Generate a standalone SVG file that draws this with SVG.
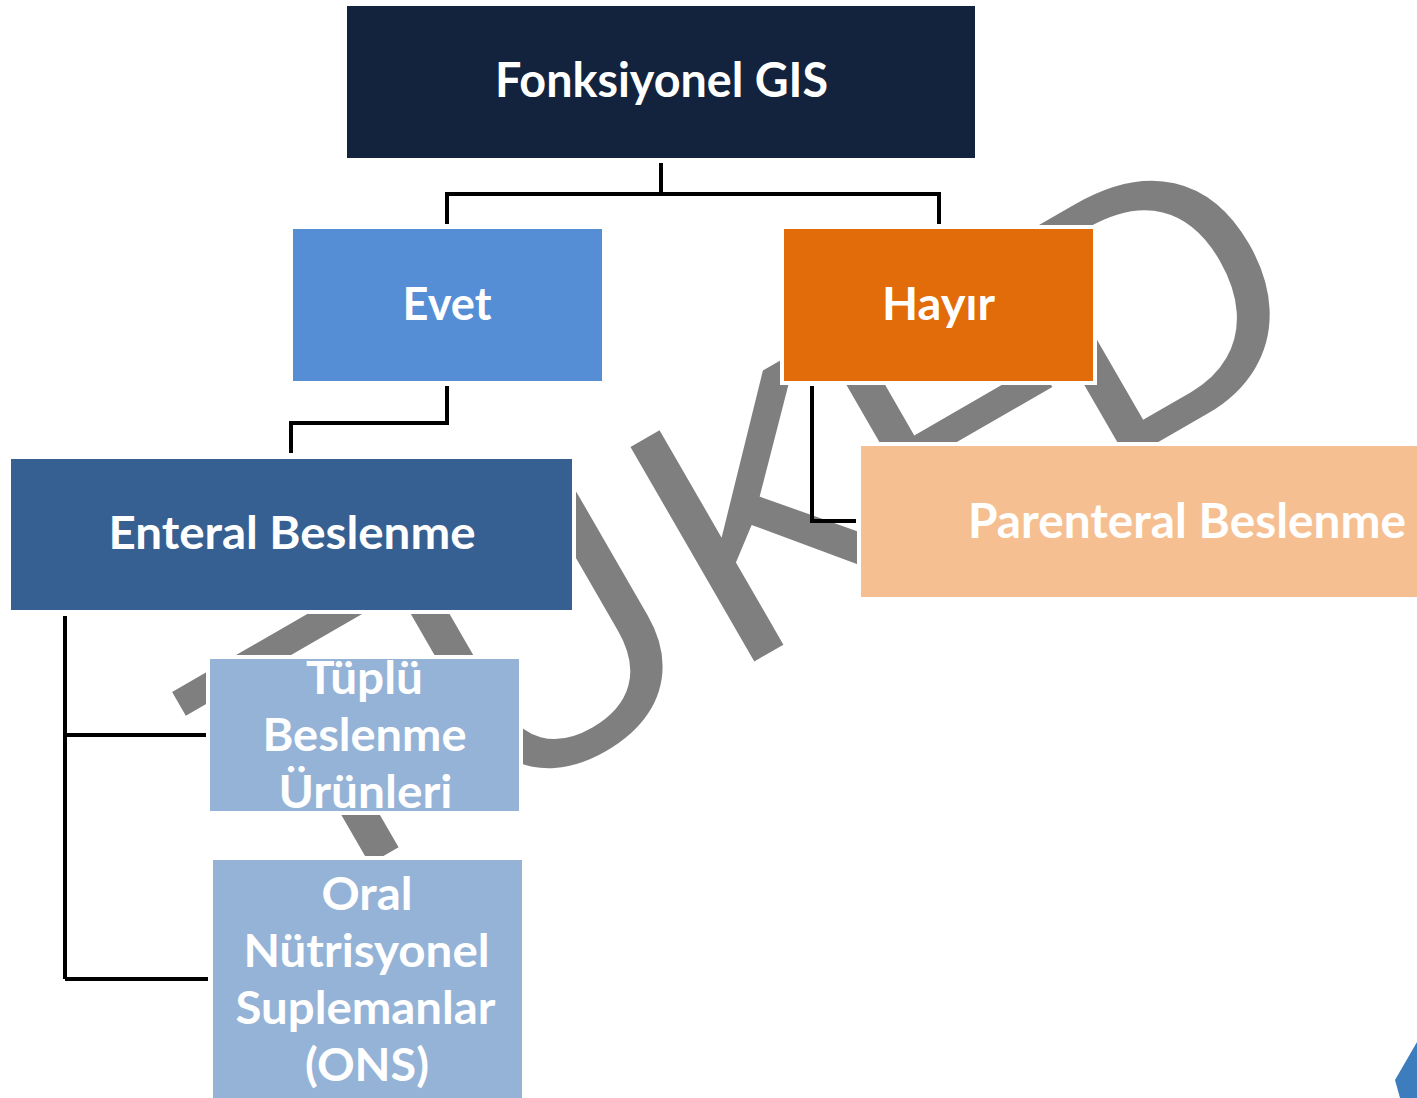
<svg xmlns="http://www.w3.org/2000/svg" width="1417" height="1098" viewBox="0 0 1417 1098">
<style>
.box{stroke:#fff;stroke-width:8;paint-order:stroke}
.lbl{font-family:Lato,"Open Sans","Liberation Sans",sans-serif;font-weight:700;fill:#fff;text-anchor:middle;font-size:46px}
.wire{fill:none;stroke:#000;stroke-width:4;stroke-linejoin:miter;stroke-linecap:butt}
.wm{font-family:"Liberation Sans",Arial,sans-serif;font-size:360px;fill:#7f7f7f}
</style>
<rect width="1417" height="1098" fill="#fff"/>
<g id="watermark" transform="rotate(-30)">
<text class="wm" x="-205 21 293 511 717" y="933 950 950 975 962">TÜKED</text>
</g>
<g id="connectors">
<path class="wire" d="M661,163 V194"/>
<path class="wire" d="M447,224 V194 H939 V224"/>
<path class="wire" d="M447,386 V423 H291 V453"/>
<path class="wire" d="M812,386 V521 H856"/>
<path class="wire" d="M65,616 V979"/>
<path class="wire" d="M65,735 H206"/>
<path class="wire" d="M65,979 H208"/>
</g>
<g id="node-fonksiyonel">
<rect class="box" x="347" y="6" width="628" height="152" fill="#13233D"/>
<text class="lbl" x="661.5" y="97" style="font-size:47px" textLength="333" lengthAdjust="spacingAndGlyphs">Fonksiyonel GIS</text>
</g>
<g id="node-evet">
<rect class="box" x="293" y="229" width="309" height="152" fill="#558ED5"/>
<text class="lbl" x="447" y="320" textLength="89" lengthAdjust="spacingAndGlyphs">Evet</text>
</g>
<g id="node-hayir">
<rect class="box" x="784" y="229" width="309" height="152" fill="#E26B0A"/>
<text class="lbl" x="938.5" y="320" textLength="113" lengthAdjust="spacingAndGlyphs">Hayır</text>
</g>
<g id="node-enteral">
<rect class="box" x="11" y="459" width="561" height="151" fill="#376092"/>
<text class="lbl" x="292" y="549" textLength="367" lengthAdjust="spacingAndGlyphs">Enteral Beslenme</text>
</g>
<g id="node-parenteral">
<rect class="box" x="861" y="446" width="650" height="151" fill="#F6BF91"/>
<text class="lbl" x="1187" y="538" style="font-size:47px" textLength="438" lengthAdjust="spacingAndGlyphs">Parenteral Beslenme</text>
</g>
<g id="node-tuplu">
<rect class="box" x="210" y="659" width="309" height="152" fill="#95B3D7"/>
<text class="lbl" x="364.5" y="694" textLength="117" lengthAdjust="spacingAndGlyphs">Tüplü</text>
<text class="lbl" x="364.5" y="751" textLength="204" lengthAdjust="spacingAndGlyphs">Beslenme</text>
<text class="lbl" x="365.5" y="808" textLength="174" lengthAdjust="spacingAndGlyphs">Ürünleri</text>
</g>
<g id="node-oral">
<rect class="box" x="213" y="860" width="309" height="245" fill="#95B3D7"/>
<text class="lbl" x="367" y="910" textLength="91" lengthAdjust="spacingAndGlyphs">Oral</text>
<text class="lbl" x="366.5" y="967" textLength="246" lengthAdjust="spacingAndGlyphs">Nütrisyonel</text>
<text class="lbl" x="365.5" y="1024" textLength="260" lengthAdjust="spacingAndGlyphs">Suplemanlar</text>
<text class="lbl" x="367" y="1081" textLength="124" lengthAdjust="spacingAndGlyphs">(ONS)</text>
</g>
<polygon points="1417,1042 1395,1080 1400,1098 1417,1098" fill="#3D7DBE"/>
</svg>
